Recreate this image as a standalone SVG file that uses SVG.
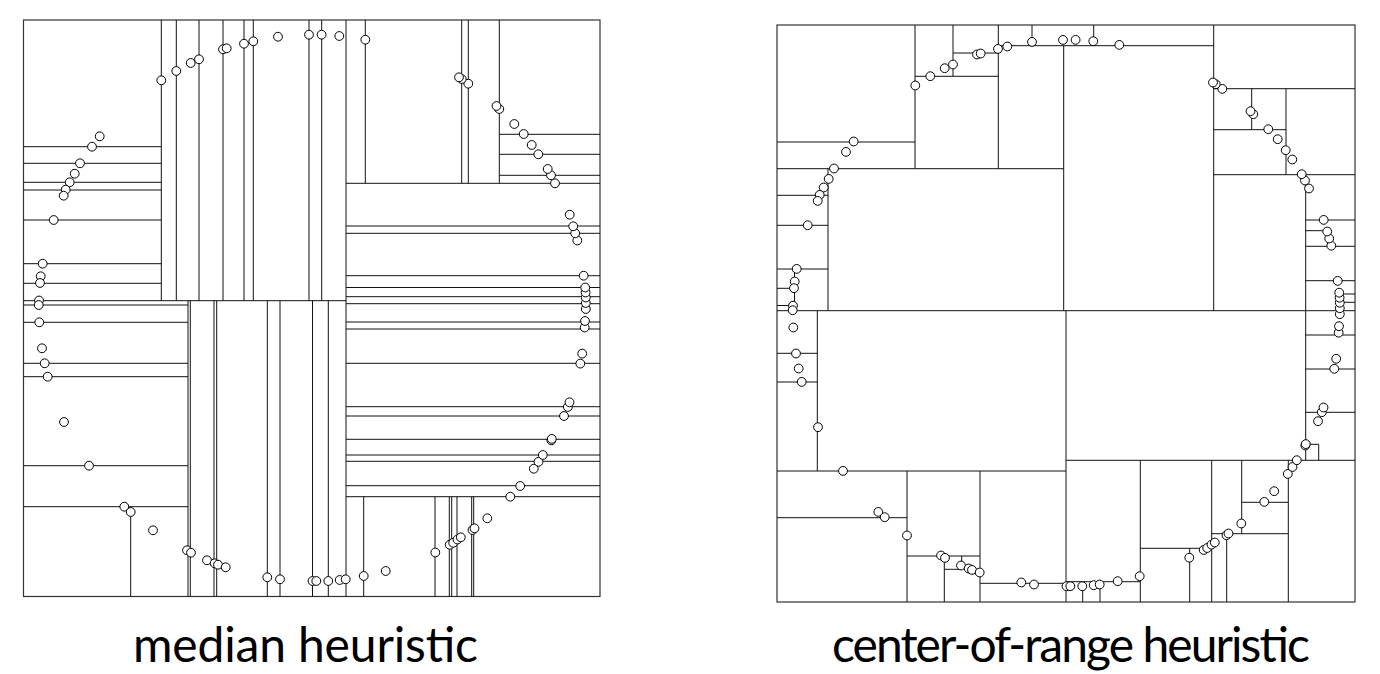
<svg xmlns="http://www.w3.org/2000/svg" xmlns:xlink="http://www.w3.org/1999/xlink" width="1380" height="674" viewBox="0 0 1380 674">
<style>
.frame{fill:none;stroke:#333;stroke-width:1.2}
.ln{fill:none;stroke:#111;stroke-width:1}
.pt{fill:#fff;stroke:#000;stroke-width:1}
.lbl{font-family:Lato,"Open Sans","Liberation Sans",sans-serif;font-size:48px;fill:#000;text-anchor:middle}
</style>
<defs>
<g id="pts">
<circle class="pt" cx="161.3" cy="80.3" r="4.4"/>
<circle class="pt" cx="176.3" cy="71" r="4.4"/>
<circle class="pt" cx="190.7" cy="63" r="4.4"/>
<circle class="pt" cx="199" cy="59.3" r="4.4"/>
<circle class="pt" cx="223" cy="49.3" r="4.4"/>
<circle class="pt" cx="226.7" cy="48.3" r="4.4"/>
<circle class="pt" cx="244" cy="43.7" r="4.4"/>
<circle class="pt" cx="253.3" cy="41.3" r="4.4"/>
<circle class="pt" cx="278" cy="36.7" r="4.4"/>
<circle class="pt" cx="309" cy="34.7" r="4.4"/>
<circle class="pt" cx="321.6" cy="34.7" r="4.4"/>
<circle class="pt" cx="339.3" cy="36" r="4.4"/>
<circle class="pt" cx="365.3" cy="39.7" r="4.4"/>
<circle class="pt" cx="99.7" cy="136.3" r="4.4"/>
<circle class="pt" cx="92" cy="146.7" r="4.4"/>
<circle class="pt" cx="80" cy="163.3" r="4.4"/>
<circle class="pt" cx="74.7" cy="173.7" r="4.4"/>
<circle class="pt" cx="69.7" cy="182.3" r="4.4"/>
<circle class="pt" cx="65.7" cy="189.7" r="4.4"/>
<circle class="pt" cx="63.7" cy="195.7" r="4.4"/>
<circle class="pt" cx="53.7" cy="220" r="4.4"/>
<circle class="pt" cx="42.7" cy="263.7" r="4.4"/>
<circle class="pt" cx="40.7" cy="276.3" r="4.4"/>
<circle class="pt" cx="40" cy="283" r="4.4"/>
<circle class="pt" cx="39" cy="300.5" r="4.4"/>
<circle class="pt" cx="38.7" cy="305" r="4.4"/>
<circle class="pt" cx="39.3" cy="322.3" r="4.4"/>
<circle class="pt" cx="42" cy="348.3" r="4.4"/>
<circle class="pt" cx="44.7" cy="363.3" r="4.4"/>
<circle class="pt" cx="47.7" cy="376.7" r="4.4"/>
<circle class="pt" cx="64" cy="422" r="4.4"/>
<circle class="pt" cx="89" cy="465.7" r="4.4"/>
<circle class="pt" cx="124.3" cy="506.7" r="4.4"/>
<circle class="pt" cx="130.7" cy="512" r="4.4"/>
<circle class="pt" cx="153" cy="530.3" r="4.4"/>
<circle class="pt" cx="187" cy="550.3" r="4.4"/>
<circle class="pt" cx="191" cy="552.7" r="4.4"/>
<circle class="pt" cx="207" cy="560.3" r="4.4"/>
<circle class="pt" cx="214.7" cy="563.3" r="4.4"/>
<circle class="pt" cx="218" cy="564.7" r="4.4"/>
<circle class="pt" cx="225.7" cy="567.3" r="4.4"/>
<circle class="pt" cx="267.3" cy="577.3" r="4.4"/>
<circle class="pt" cx="280" cy="579.3" r="4.4"/>
<circle class="pt" cx="312.5" cy="581" r="4.4"/>
<circle class="pt" cx="316.3" cy="581" r="4.4"/>
<circle class="pt" cx="328.3" cy="581" r="4.4"/>
<circle class="pt" cx="339.7" cy="580" r="4.4"/>
<circle class="pt" cx="345.7" cy="579.3" r="4.4"/>
<circle class="pt" cx="363.7" cy="576" r="4.4"/>
<circle class="pt" cx="385.7" cy="571" r="4.4"/>
<circle class="pt" cx="435.3" cy="552.5" r="4.4"/>
<circle class="pt" cx="449.7" cy="544.8" r="4.4"/>
<circle class="pt" cx="453.2" cy="542.8" r="4.4"/>
<circle class="pt" cx="457.5" cy="539.5" r="4.4"/>
<circle class="pt" cx="460.8" cy="537.3" r="4.4"/>
<circle class="pt" cx="472.5" cy="530" r="4.4"/>
<circle class="pt" cx="474.5" cy="528.3" r="4.4"/>
<circle class="pt" cx="487.3" cy="518.3" r="4.4"/>
<circle class="pt" cx="510.3" cy="496.7" r="4.4"/>
<circle class="pt" cx="520.2" cy="486" r="4.4"/>
<circle class="pt" cx="533.8" cy="468.7" r="4.4"/>
<circle class="pt" cx="538.5" cy="461.8" r="4.4"/>
<circle class="pt" cx="542.8" cy="455" r="4.4"/>
<circle class="pt" cx="551.3" cy="440.3" r="4.4"/>
<circle class="pt" cx="551.8" cy="438.9" r="4.4"/>
<circle class="pt" cx="564" cy="416" r="4.4"/>
<circle class="pt" cx="567.8" cy="407" r="4.4"/>
<circle class="pt" cx="569.5" cy="402.3" r="4.4"/>
<circle class="pt" cx="580.3" cy="363.6" r="4.4"/>
<circle class="pt" cx="582.2" cy="353.6" r="4.4"/>
<circle class="pt" cx="584.7" cy="327.5" r="4.4"/>
<circle class="pt" cx="585" cy="321" r="4.4"/>
<circle class="pt" cx="585.8" cy="309" r="4.4"/>
<circle class="pt" cx="585.8" cy="303" r="4.4"/>
<circle class="pt" cx="585.8" cy="297.5" r="4.4"/>
<circle class="pt" cx="585.6" cy="292.5" r="4.4"/>
<circle class="pt" cx="585.2" cy="287.5" r="4.4"/>
<circle class="pt" cx="583.7" cy="275.7" r="4.4"/>
<circle class="pt" cx="577.3" cy="240.5" r="4.4"/>
<circle class="pt" cx="575.2" cy="233.3" r="4.4"/>
<circle class="pt" cx="573.2" cy="226.3" r="4.4"/>
<circle class="pt" cx="569.7" cy="214.7" r="4.4"/>
<circle class="pt" cx="555" cy="183.3" r="4.4"/>
<circle class="pt" cx="551" cy="175.3" r="4.4"/>
<circle class="pt" cx="547.7" cy="169" r="4.4"/>
<circle class="pt" cx="538.3" cy="154.3" r="4.4"/>
<circle class="pt" cx="531.7" cy="145" r="4.4"/>
<circle class="pt" cx="523.7" cy="134" r="4.4"/>
<circle class="pt" cx="514.3" cy="124" r="4.4"/>
<circle class="pt" cx="499.3" cy="109" r="4.4"/>
<circle class="pt" cx="496.5" cy="106" r="4.4"/>
<circle class="pt" cx="468.3" cy="83.7" r="4.4"/>
<circle class="pt" cx="461.7" cy="79" r="4.4"/>
<circle class="pt" cx="459" cy="77.3" r="4.4"/>
</g>
</defs>

<g id="panel-median">
<rect class="frame" x="23.5" y="20" width="576.5" height="576.5"/>
<g id="median-splits" class="ln">
<path d="M346,20V596.5 M161.3,20V300.7 M176.3,20V300.7 M199,20V300.7 M223,20V300.7 M244,20V300.7 M253.3,20V300.7 M309,20V300.7 M321.7,20V300.7
M188,300.7V596.5 M190.3,300.7V596.5 M214,300.7V596.5 M216.7,300.7V596.5 M267.3,300.7V596.5 M280,300.7V596.5 M312.5,300.7V596.5 M328.3,300.7V596.5
M130.7,506.7V596.5
M365.3,20V183.3 M461.7,20V183.3 M468.3,20V183.3 M499.3,20V183.3
M363.7,496.7V596.5 M435,496.7V596.5 M449.3,496.7V596.5 M451.7,496.7V596.5 M457,496.7V596.5 M471.7,496.7V596.5 M473.7,496.7V596.5"/>
<path d="M23.5,300.7H346
M23.5,146.7H161.3 M23.5,163.3H161.3 M23.5,182.3H161.3 M23.5,190H161.3 M23.5,220H161.3 M23.5,263.7H161.3 M23.5,283.3H161.3
M23.5,305H188 M23.5,322.3H188 M23.5,363.3H188 M23.5,376.7H188 M23.5,465.7H188 M23.5,506.7H188
M346,183.3H600
M499.3,134.3H600 M499.3,154.3H600 M499.3,175.3H600
M346,226H600 M346,233.3H600 M346,275.7H600 M346,287.5H600 M346,296.7H600 M346,303.7H600 M346,322H600 M346,329H600 M346,363.3H600 M346,406.7H600 M346,416H600 M346,439.3H600 M346,455H600 M346,461.3H600 M346,485.7H600 M346,496.7H600"/>
</g>
<use href="#pts" xlink:href="#pts"/>
<text class="lbl" x="305.5" y="662" textLength="345">median heuristic</text>
</g>

<g id="panel-center">
<rect class="frame" x="777" y="25" width="578" height="577"/>
<g id="center-splits" class="ln">
<path d="M777,310.7H1355 M777,168.7H1063.7 M777,142H915 M915,76.3H998.3 M953,53H998.3 M998.3,45.7H1213.7
M777,195.3H828 M777,225.3H828 M777,269H828 M777,288.3H794.5 M777,305.5H794.5
M1213.7,88.7H1355 M1213.7,129.7H1286 M1213.7,174.7H1355
M1305.7,220H1355 M1305.7,246.3H1355 M1305.7,280.7H1355 M1305.7,230.7H1323 M1341,294H1355 M1341,302.3H1355
M1305.7,335H1355 M1305.7,369H1355 M1305.7,412.3H1355 M1305.7,444.3H1318.7
M1066,460.3H1355 M1241.7,502.3H1288.3 M1211.7,533.7H1288.3 M1140.3,548.3H1211.7 M1066,581.7H1140.3
M777,353.3H817.3 M777,382H817.3 M777,471H1066 M777,517.7H907 M907,556H980 M944.3,569.3H961.7 M980,583.3H1066"/>
<path d="M915,25V168.7 M998.3,25V168.7 M953,25V76.3 M1032,25V45.7 M1093.7,25V45.7 M1063.7,45.7V310.7 M1213.7,25V310.7
M828,168.7V310.7 M794.5,269V310.7
M1251.7,88.7V129.7 M1286,88.7V174.7 M1305.7,174.7V460.3 M1341,294V302.3 M1318.7,444.3V460.3
M1066,310.7V602 M817.3,310.7V471 M907,471V602 M980,471V602 M944.3,556V602 M961.7,556V569.3
M1140.3,460.3V602 M1211.7,460.3V602 M1288.3,460.3V602 M1241.7,460.3V533.7 M1226.7,533.7V602 M1189.7,548.3V602 M1082.7,581.7V602 M1100,581.7V602"/>
</g>
<use href="#pts" xlink:href="#pts" transform="translate(754,5.2)"/>
<text class="lbl" x="1071" y="662" textLength="478">center-of-range heuristic</text>
</g>
</svg>
